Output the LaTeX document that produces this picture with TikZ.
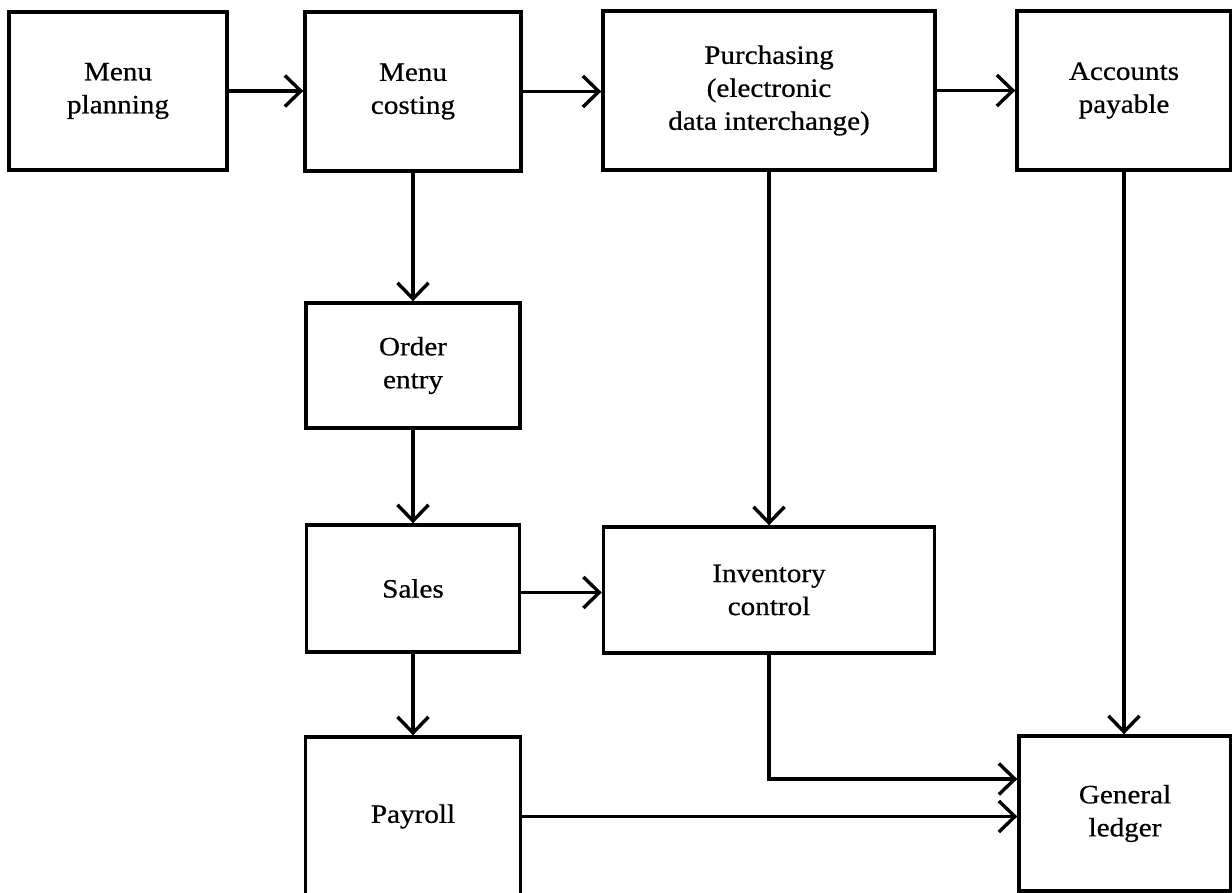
\documentclass[tikz,border=0pt]{standalone}
\usepackage{fontspec}
\setmainfont{Liberation Serif}[FakeStretch=1.1, FakeBold=0.6]
\usetikzlibrary{arrows.meta}
\begin{document}
\begin{tikzpicture}[x=1pt,y=-1pt,
  box/.style={draw, line width=3.4pt, rectangle, inner sep=0pt, align=center,
    font=\fontsize{26.5}{33}\selectfont},
  flow/.style={line width=3.4pt, -{Straight Barb[length=16pt,width=31pt]}}]
  \fill[white] (0,0) rectangle (1232,893);
  \useasboundingbox (0,0) rectangle (1232,893);

  % top row
  \node[box, minimum width=218pt, minimum height=158pt] (mp) at (118,91) {Menu\\planning};
  \node[box, minimum width=216pt, minimum height=159pt] (mc) at (413,91.5) {Menu\\costing};
  \node[box, minimum width=332pt, minimum height=159pt] (pu) at (769,90.5) {Purchasing\\(electronic\\data interchange)};
  \node[box, minimum width=214pt, minimum height=159pt] (ap) at (1124,90.5) {Accounts\\payable};

  % left column
  \node[box, minimum width=214pt, minimum height=125pt] (oe) at (413,365.5) {Order\\entry};
  \node[box, minimum width=213pt, minimum height=127pt] (sa) at (413,588.5) {Sales};
  \node[box, minimum width=215pt, minimum height=159pt] (pa) at (413,816.5) {Payroll};

  % middle and right
  \node[box, minimum width=331pt, minimum height=126pt] (ic) at (769,590) {Inventory\\control};
  \node[box, minimum width=212pt, minimum height=155pt] (gl) at (1125,813.5) {General\\ledger};

  % connectors
  \draw[flow] (mp.east) -- (mp.east -| mc.west);
  \draw[flow] (mc.east) -- (mc.east -| pu.west);
  \draw[flow] (pu.east) -- (pu.east -| ap.west);
  \draw[flow] (mc.south) -- (oe.north);
  \draw[flow] (oe.south) -- (sa.north);
  \draw[flow] (sa.south) -- (pa.north);
  \draw[flow] ([yshift=-4pt]sa.east) -- ([yshift=-4pt]sa.east -| ic.west);
  \draw[flow] (pu.south) -- (ic.north);
  \draw[flow] (ic.south) |- ([yshift=34.5pt]gl.west);
  \draw[flow] (pa.east) -- (pa.east -| gl.west);
  \draw[flow] (ap.south) -- (ap.south |- gl.north);
\end{tikzpicture}
\end{document}
